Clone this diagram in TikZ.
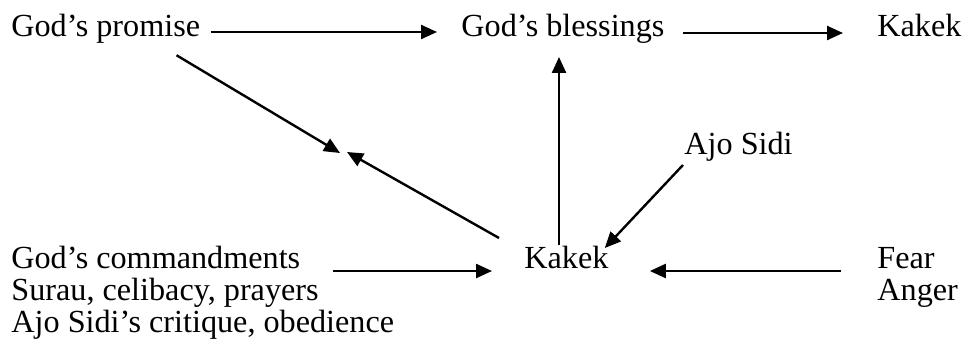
\documentclass[tikz,border=0pt]{standalone}
\usepackage{fontspec}
\setmainfont{Liberation Serif}
\usetikzlibrary{arrows.meta}
\tikzset{
  font={\fontsize{16.1pt}{15.9pt}\selectfont}}

\begin{document}
\begin{tikzpicture}[x=0.5pt,y=-0.5pt]
\tikzstyle{every node}+=[inner sep=0pt, anchor=base west]
\tikzstyle{flow}=[line width=1.2pt, -{Triangle[length=8pt,width=7pt]}]
\useasboundingbox (0,0) rectangle (962,342);
% top row
\node (promise) at (11,37) {God's promise};
\node (bless) at (461,37) {God's blessings};
\node (kakektop) at (877,37) {Kakek};
% middle and bottom
\node (ajo) at (684,154) {Ajo Sidi};
\node (kakek) at (524,268) {Kakek};
\node (rules) [align=left] at (11,332) {God's commandments\\Surau, celibacy, prayers\\Ajo Sidi's critique, obedience};
\node (feel) [align=left] at (877,300) {Fear\\Anger};
\coordinate (meet) at (343,152);
% arrows
\draw [flow] ([shift={(10,-5)}]promise.base east) -- ([shift={(-24,-5)}]bless.base west);
\draw [flow] ([shift={(18,-4)}]bless.base east) -- ([shift={(-34,-4)}]kakektop.base west);
\draw [flow] ([shift={(-24,11)}]promise.south east) -- ([shift={(-3,1)}]meet);
\draw [flow] ([shift={(-25,-30)}]kakek.base west) -- ([shift={(4,0)}]meet);
\draw [flow] ([shift={(35,-23)}]kakek.base west) -- ([shift={(98,20)}]bless.base west);
\draw [flow] ([shift={(-1,11)}]ajo.base west) -- ([shift={(-4,-20)}]kakek.base east);
\draw [flow] ([shift={(-36,-29)}]feel.base west) -- ([shift={(41,3)}]kakek.base east);
\draw [flow] ([shift={(322,-61)}]rules.base west) -- ([shift={(-32,3)}]kakek.base west);
\end{tikzpicture}
\end{document}
